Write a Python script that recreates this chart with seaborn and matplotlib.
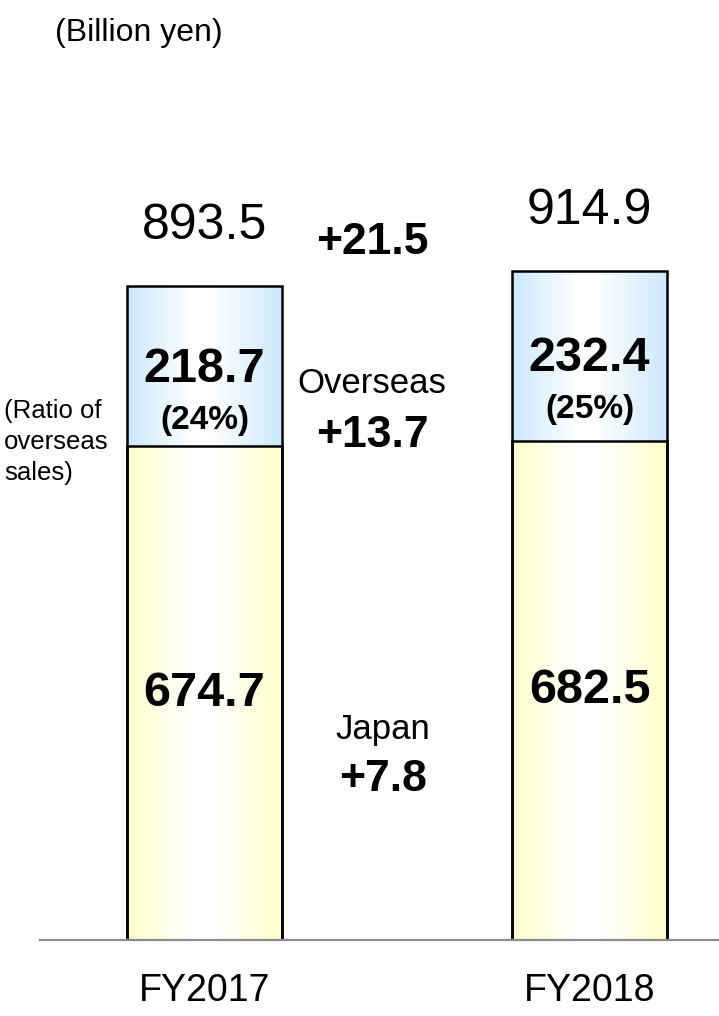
import matplotlib
matplotlib.use("Agg")
import matplotlib.pyplot as plt
import numpy as np
import pandas as pd
import seaborn as sns
from matplotlib.colors import LinearSegmentedColormap

# Data (billion yen)
years = ["FY2017", "FY2018"]
japan = [674.7, 682.5]
overseas = [218.7, 232.4]
totals = [893.5, 914.9]
ratio = [24, 25]                 # overseas share, %
changes = {"total": 21.5, "Overseas": 13.7, "Japan": 7.8}

BLUE = "#cbe8fc"
YELLOW = "#ffffcb"


def gradient_fill(ax, patch, color, z):
    # horizontal gradient: colour at edges, white around the middle
    cmap = LinearSegmentedColormap.from_list(
        "g", [(0, color), (0.42, "white"), (0.55, "white"), (1, color)])
    x0, y0 = patch.get_x(), patch.get_y()
    w, h = patch.get_width(), patch.get_height()
    grad = np.linspace(0, 1, 256).reshape(1, -1)
    im = ax.imshow(grad, cmap=cmap, aspect="auto", extent=[x0, x0 + w, y0, y0 + h],
                   zorder=z, interpolation="bicubic")
    im.set_clip_path(patch)


def main():
    sns.set_style("white")
    plt.rcParams["font.family"] = ["Liberation Sans", "DejaVu Sans"]
    plt.rcParams["text.color"] = "black"
    plt.rcParams["xtick.color"] = "black"

    df = pd.DataFrame({"year": years, "japan": japan,
                       "overseas": overseas, "total": totals})

    fig = plt.figure(figsize=(7.19, 10.16), dpi=100)
    ax = fig.add_axes([40 / 719, 76 / 1016, 679 / 719, 900 / 1016])

    bw = 0.4026
    sns.barplot(data=df, x="year", y="total", color=BLUE, width=bw,
                edgecolor="black", linewidth=1.8, ax=ax, zorder=2)
    sns.barplot(data=df, x="year", y="japan", color=YELLOW, width=bw,
                edgecolor="black", linewidth=1.8, ax=ax, zorder=2)

    patches = list(ax.patches)
    n = len(years)
    for p in patches[:n]:
        gradient_fill(ax, p, BLUE, 1)
        p.set_facecolor("none")
    for p in patches[n:]:
        gradient_fill(ax, p, YELLOW, 1.5)
        p.set_facecolor("none")
        p.set_zorder(3)

    ax.set_xlim(-0.427, 1.336)
    ax.set_ylim(0, 1230)

    for s in ["top", "left", "right"]:
        ax.spines[s].set_visible(False)
    ax.spines["bottom"].set_color("#8c8c8c")
    ax.spines["bottom"].set_linewidth(1.6)
    ax.spines["bottom"].set_zorder(4)
    ax.set_yticks([])
    ax.set_xlabel("")
    ax.set_ylabel("")
    ax.tick_params(axis="x", length=0, pad=24, labelsize=27, labelcolor="black")

    # segment labels
    for i in range(n):
        ax.text(i, japan[i] / 2, f"{japan[i]:.1f}", ha="center", va="center",
                fontsize=35, fontweight="bold", zorder=5)
        mid = japan[i] + overseas[i] / 2
        ax.annotate(f"{overseas[i]:.1f}", (i, mid), xytext=(0, -2),
                    textcoords="offset points", ha="center", va="center",
                    fontsize=35, fontweight="bold", zorder=5)
        ax.annotate(f"({ratio[i]}%)", (i, mid), xytext=(0, -39),
                    textcoords="offset points", ha="center", va="center",
                    fontsize=24, fontweight="bold", zorder=5)
        ax.annotate(f"{totals[i]:.1f}", (i, totals[i]), xytext=(0, 43),
                    textcoords="offset points", ha="center", va="center",
                    fontsize=36, zorder=5)

    # differences between the years
    ax.text(0.435, 953, f"+{changes['total']:.1f}", ha="center", va="center",
            fontsize=32, fontweight="bold")
    ax.text(0.435, 761, "Overseas", ha="center", va="center", fontsize=25)
    ax.text(0.435, 690, f"+{changes['Overseas']:.1f}", ha="center", va="center",
            fontsize=32, fontweight="bold")
    ax.text(0.463, 287, "Japan", ha="center", va="center", fontsize=25)
    ax.text(0.463, 219, f"+{changes['Japan']:.1f}", ha="center", va="center",
            fontsize=32, fontweight="bold")

    fig.text(55 / 719, 1 - 33 / 1016, "(Billion yen)", ha="left", va="center",
             fontsize=23)
    fig.text(4 / 719, 1 - 442 / 1016, "(Ratio of\noverseas\nsales)", ha="left",
             va="center", fontsize=18.5, linespacing=1.38)

    fig.savefig("out.png", dpi=100)
    plt.close(fig)


if __name__ == "__main__":
    main()
